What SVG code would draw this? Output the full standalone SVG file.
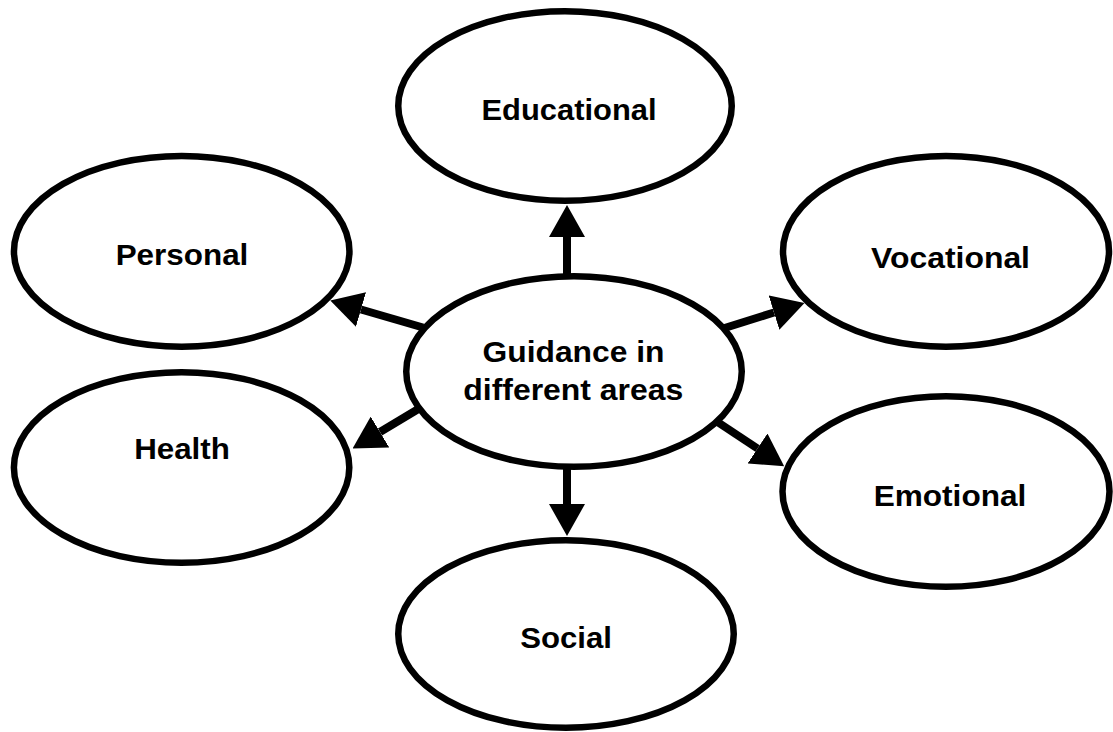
<svg xmlns="http://www.w3.org/2000/svg" width="1113" height="732" viewBox="0 0 1113 732">
  <style>
    .node ellipse { fill: #ffffff; stroke: #000000; stroke-width: 6.5; }
    .node text { font-family: "Liberation Sans", Arial, sans-serif; font-weight: bold; font-size: 30px; fill: #000000; text-anchor: middle; }
    .conn line { stroke: #000000; stroke-width: 8; marker-end: url(#arrow); }
  </style>
  <defs>
    <marker id="arrow" viewBox="0 0 32 36" refX="0" refY="18" markerWidth="32" markerHeight="36" markerUnits="userSpaceOnUse" orient="auto">
      <path d="M0,0 L32,18 L0,36 z" fill="#000000"/>
    </marker>
  </defs>
  <rect width="1113" height="732" fill="#ffffff"/>

  <g id="connectors" class="conn">
    <line x1="567" y1="276" x2="567" y2="237"/>
    <line x1="567" y1="468" x2="567" y2="504"/>
    <line x1="423" y1="327.5" x2="361" y2="309.5"/>
    <line x1="420" y1="408" x2="380" y2="432"/>
    <line x1="723" y1="328.5" x2="774" y2="312.5"/>
    <line x1="716" y1="421" x2="757.5" y2="448.5"/>
  </g>

  <g id="node-center" class="node">
    <ellipse cx="574" cy="371.5" rx="167.75" ry="95.25"/>
    <text x="573.5" y="362" textLength="182" lengthAdjust="spacingAndGlyphs">Guidance in</text>
    <text x="573.3" y="400" textLength="220" lengthAdjust="spacingAndGlyphs">different areas</text>
  </g>
  <g id="node-educational" class="node">
    <ellipse cx="565" cy="106" rx="166.75" ry="94.75"/>
    <text x="569" y="120" textLength="175" lengthAdjust="spacingAndGlyphs">Educational</text>
  </g>
  <g id="node-personal" class="node">
    <ellipse cx="181.7" cy="251.3" rx="167.75" ry="95.4"/>
    <text x="182" y="265" textLength="132.7" lengthAdjust="spacingAndGlyphs">Personal</text>
  </g>
  <g id="node-health" class="node">
    <ellipse cx="181.6" cy="467.5" rx="167.7" ry="95.3"/>
    <text x="182" y="459" textLength="95.7" lengthAdjust="spacingAndGlyphs">Health</text>
  </g>
  <g id="node-vocational" class="node">
    <ellipse cx="946" cy="251.3" rx="163" ry="95.4"/>
    <text x="950.5" y="268" textLength="159" lengthAdjust="spacingAndGlyphs">Vocational</text>
  </g>
  <g id="node-emotional" class="node">
    <ellipse cx="946" cy="491.5" rx="163.5" ry="95.25"/>
    <text x="950" y="506" textLength="152.7" lengthAdjust="spacingAndGlyphs">Emotional</text>
  </g>
  <g id="node-social" class="node">
    <ellipse cx="566" cy="634" rx="167.75" ry="93.75"/>
    <text x="566" y="648" textLength="91.7" lengthAdjust="spacingAndGlyphs">Social</text>
  </g>
</svg>
